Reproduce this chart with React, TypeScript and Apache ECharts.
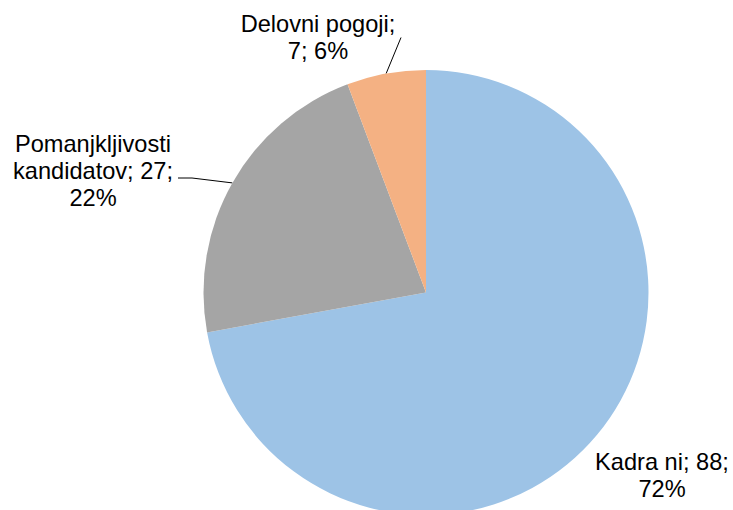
import React, { useEffect, useRef } from 'react';
import * as echarts from 'echarts';

const categories = ['Kadra ni', 'Pomanjkljivosti kandidatov', 'Delovni pogoji'];
const values = [88, 27, 7];
const colors = ['#9DC3E6', '#A5A5A5', '#F4B183'];
const showLabelLine = [false, true, true];

// label block centres (layout, not data)
const labelCenters: number[][] = [
  [662, 475.5],
  [93, 171],
  [318, 37.5],
];

const FONT_FAMILY = '"Liberation Sans", Arial, sans-serif';
const FONT_SIZE = 23.6;
const WRAP_WIDTH = 168;

function wrapWords(text: string): string {
  const ctx = document.createElement('canvas').getContext('2d');
  if (!ctx) return text;
  ctx.font = `${FONT_SIZE}px ${FONT_FAMILY}`;
  const words = text.split(' ');
  const lines: string[] = [];
  let cur = '';
  for (const w of words) {
    const test = cur ? cur + ' ' + w : w;
    if (cur && ctx.measureText(test).width > WRAP_WIDTH) {
      lines.push(cur);
      cur = w;
    } else {
      cur = test;
    }
  }
  if (cur) lines.push(cur);
  return lines.join('\n');
}

export default function App() {
  const ref = useRef<HTMLDivElement>(null);
  useEffect(() => {
    document.body.style.margin = '0';
    const chart = echarts.init(ref.current!, null, { renderer: 'svg' });
    chart.setOption({
      animation: false,
      series: [
        {
          type: 'pie',
          center: [426, 292.5],
          radius: 222.5,
          startAngle: 90,
          clockwise: true,
          percentPrecision: 0,
          silent: true,
          avoidLabelOverlap: false,
          data: categories.map((name, i) => ({
            name,
            value: values[i],
            itemStyle: { color: colors[i] },
            labelLine: { show: showLabelLine[i] },
          })),
          label: {
            show: true,
            position: 'outside',
            formatter: (p: any) => wrapWords(`${p.name}; ${p.value}; ${p.percent}%`),
            fontFamily: FONT_FAMILY,
            fontSize: FONT_SIZE,
            lineHeight: 27,
            color: '#000',
            align: 'center',
          },
          labelLine: {
            lineStyle: { color: '#000', width: 1 },
            length: 20,
            length2: 15,
          },
          labelLayout: (params: any) => {
            const i = params.dataIndex;
            const [cx, cy] = labelCenters[i];
            const out: any = { x: cx, y: cy, align: 'center', verticalAlign: 'middle' };
            const pts = params.labelLinePoints;
            if (pts && pts[0]) {
              const p0 = [pts[0][0], pts[0][1]];
              if (i === 1) {
                out.labelLinePoints = [p0, [cx + 99, cy + 7], [cx + 85, cy + 7]];
              } else if (i === 2) {
                out.labelLinePoints = [p0, [cx + 83, cy], [cx + 83, cy]];
              }
            }
            return out;
          },
        },
      ],
    });
    return () => chart.dispose();
  }, []);
  return <div ref={ref} style={{ width: 733, height: 510 }} />;
}
